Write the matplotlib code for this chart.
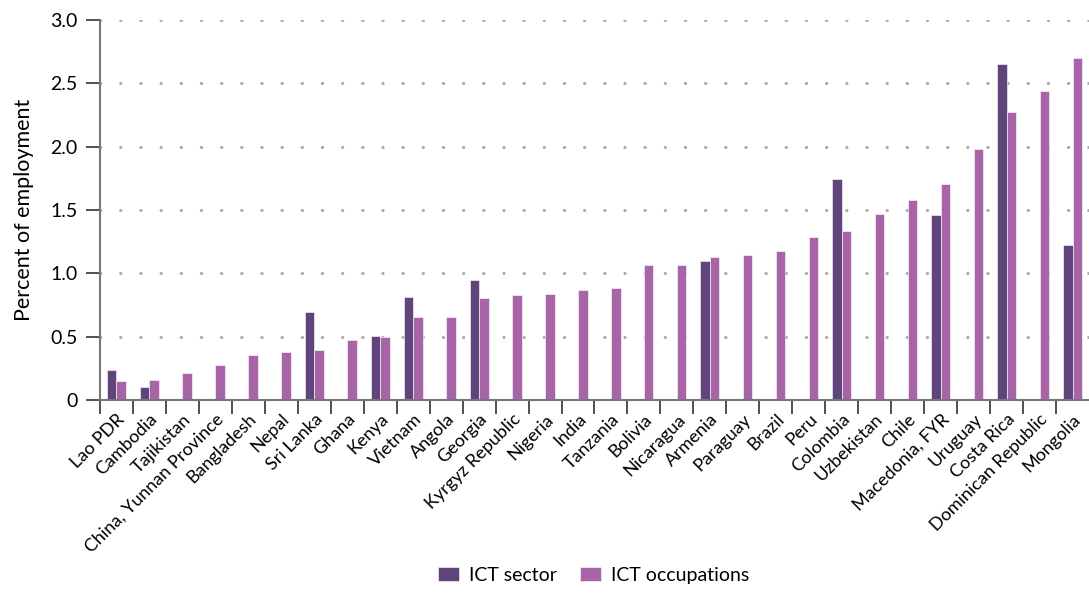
import matplotlib
matplotlib.use("Agg")
import matplotlib.pyplot as plt
import numpy as np

countries = [
    "Lao PDR", "Cambodia", "Tajikistan", "China, Yunnan Province", "Bangladesh",
    "Nepal", "Sri Lanka", "Ghana", "Kenya", "Vietnam", "Angola", "Georgia",
    "Kyrgyz Republic", "Nigeria", "India", "Tanzania", "Bolivia", "Nicaragua",
    "Armenia", "Paraguay", "Brazil", "Peru", "Colombia", "Uzbekistan", "Chile",
    "Macedonia, FYR", "Uruguay", "Costa Rica", "Dominican Republic", "Mongolia",
]
# NaN = no ICT sector figure for that country
ict_sector = [
    0.234, 0.103, np.nan, np.nan, np.nan, np.nan, 0.695, np.nan, 0.505, 0.815,
    np.nan, 0.947, np.nan, np.nan, np.nan, np.nan, np.nan, np.nan, 1.097, np.nan,
    np.nan, np.nan, 1.749, np.nan, np.nan, 1.459, np.nan, 2.655, np.nan, 1.228,
]
ict_occupations = [
    0.147, 0.155, 0.213, 0.274, 0.355, 0.376, 0.395, 0.474, 0.495, 0.655,
    0.655, 0.805, 0.826, 0.837, 0.866, 0.886, 1.066, 1.066, 1.126, 1.144,
    1.178, 1.286, 1.335, 1.469, 1.577, 1.705, 1.985, 2.278, 2.443, 2.705,
]

C_SECTOR = "#60457c"
C_OCC = "#a765a8"

plt.rcParams["font.family"] = ["Lato", "DejaVu Sans"]

fig = plt.figure(figsize=(10.89, 5.93), dpi=100)
ax = fig.add_axes([0.0918, 0.3255, 0.9082, 0.6405])

x = np.arange(len(countries))
w = 0.29
ax.bar(x - w / 2, ict_sector, w, color=C_SECTOR, edgecolor="white", linewidth=0.4,
       label="ICT sector")
ax.bar(x + w / 2, ict_occupations, w, color=C_OCC, edgecolor="white", linewidth=0.4,
       label="ICT occupations")

ax.set_xlim(-0.5, len(countries) - 0.5)
ax.set_ylim(0, 3.0)
ax.set_yticks(np.arange(0, 3.01, 0.5))
ax.set_yticklabels(["0", "0.5", "1.0", "1.5", "2.0", "2.5", "3.0"], fontsize=14)
ax.set_ylabel("Percent of employment", fontsize=15.5, labelpad=12)

ax.set_xticks(x)
ax.set_xticklabels(countries, rotation=45, ha="right", rotation_mode="anchor",
                   fontsize=13)
ax.tick_params(axis="x", which="major", length=0, pad=8)
ax.set_xticks(np.arange(len(countries)) - 0.5, minor=True)
ax.tick_params(axis="x", which="minor", length=10, width=1.2, color="#333333")
ax.tick_params(axis="y", length=10, width=1.2, color="#333333", pad=6)

ax.set_axisbelow(True)
ax.yaxis.grid(True, linestyle=(0, (0.1, 6.5)), linewidth=2.2, color="#aaaaaa",
              dash_capstyle="round")
for sp in ["top", "right"]:
    ax.spines[sp].set_visible(False)
for sp in ["left", "bottom"]:
    ax.spines[sp].set_color("#777777")
    ax.spines[sp].set_linewidth(1.5)

fig.legend(loc="lower center", bbox_to_anchor=(0.545, -0.014), ncol=2,
           frameon=False, fontsize=14, handlelength=1.1, handleheight=0.8,
           columnspacing=1.2, handletextpad=0.5)

fig.savefig("out.png", dpi=100)
